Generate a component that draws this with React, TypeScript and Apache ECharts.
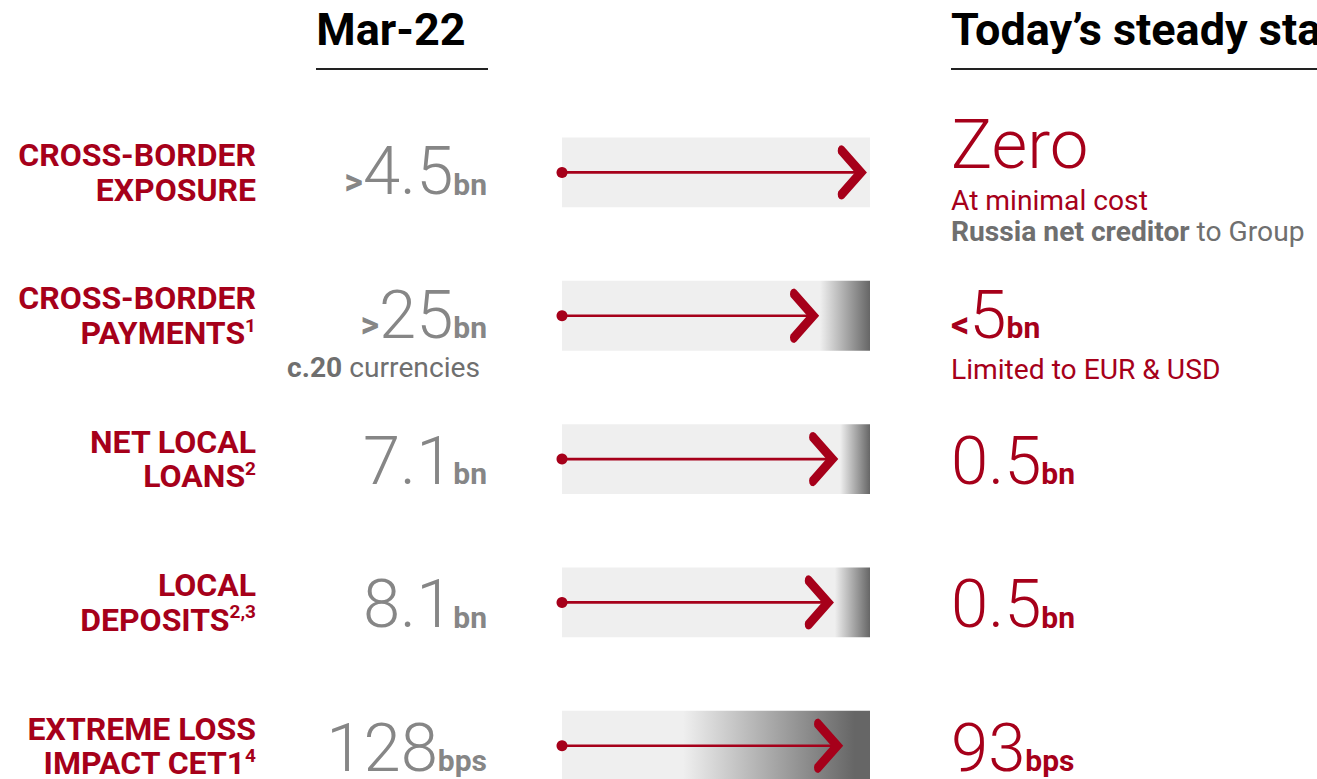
import React, { useEffect, useRef } from "react";
import * as echarts from "echarts";

// ---------- data ----------
const categories = [
  "CROSS-BORDER EXPOSURE",
  "CROSS-BORDER PAYMENTS",
  "NET LOCAL LOANS",
  "LOCAL DEPOSITS",
  "EXTREME LOSS IMPACT CET1",
];
const labelLines = [
  ["CROSS-BORDER", "EXPOSURE"],
  ["CROSS-BORDER", "PAYMENTS"],
  ["NET LOCAL", "LOANS"],
  ["LOCAL", "DEPOSITS"],
  ["EXTREME LOSS", "IMPACT CET1"],
];
const footnotes = ["", "1", "2", "2,3", "4"];

const mar22Values = ["4.5", "25", "7.1", "8.1", "128"];
const mar22Prefix = [">", ">", "", "", ""];
const mar22Units = ["bn", "bn", "bn", "bn", "bps"];
const mar22NoteBold = ["", "c.20", "", "", ""];
const mar22NoteText = ["", " currencies", "", "", ""];

const todayValues = ["Zero", "5", "0.5", "0.5", "93"];
const todayPrefix = ["", "<", "", "", ""];
const todayUnits = ["", "bn", "bn", "bn", "bps"];
const todayNotes: string[][] = [
  ["At minimal cost"],
  ["Limited to EUR & USD"],
  [],
  [],
  [],
];
const todaySubBold = ["Russia net creditor", "", "", "", ""];
const todaySubText = [" to Group", "", "", "", ""];

// arrow reach and shading of each band, in % of the band length
const arrowReach = [99, 83.5, 89.7, 88.3, 91.3];
const shadeFrom = [100, 83.8, 90.3, 88.6, 39.3];
const shadeTo = [100, 100, 100, 100, 95];

const headerLeft = "Mar-22";
const headerRight = "Today\u2019s steady state";

// ---------- styles ----------
const RED = "#a6001a";
const GREY = "#868686";
const NOTE_GREY = "#6f6f6f";
const DARK = "#666666";
const BAND = "#efefef";
const FONT = "Roboto, 'Noto Sans', sans-serif";
const FMAX = 70;
const BASE_K = 0.158; // (0.5 - central baseline offset) in em

function tok(f: number, w: any, color: string) {
  return {
    fontSize: f,
    fontWeight: w,
    fontFamily: FONT,
    fill: color,
    verticalAlign: "bottom",
    padding: [0, 0, BASE_K * (FMAX - f), 0],
  };
}
function bigRich(color: string) {
  return {
    p: tok(36, "bold", color),
    n: tok(67, 300, color),
    z: tok(69, 300, color),
    u: tok(30, "bold", color),
  };
}
const NOTE_FS = 28.2;
const noteRich = {
  r: { fontSize: NOTE_FS, fontFamily: FONT, fill: RED, fontWeight: "normal" },
  gb: { fontSize: NOTE_FS, fontFamily: FONT, fill: NOTE_GREY, fontWeight: "bold" },
  g: { fontSize: NOTE_FS, fontFamily: FONT, fill: NOTE_GREY, fontWeight: "normal" },
};

function chevron(tx: number, cy: number) {
  const half = [
    [-23, -26],
    [-25, -27.2],
    [-27.3, -26.6],
    [-28.8, -24.5],
    [-29.2, -21.5],
    [-28.7, -19],
    [-12, 0],
  ];
  const pts: number[][] = [[tx, cy]];
  half.forEach(([dx, dy]) => pts.push([tx + dx, cy + dy]));
  for (let k = half.length - 2; k >= 0; k--) {
    pts.push([tx + half[k][0], cy - half[k][1]]);
  }
  return pts;
}

export default function App() {
  const ref = useRef<HTMLDivElement>(null);
  useEffect(() => {
    document.body.style.margin = "0";
    const chart = echarts.init(ref.current!, null, { renderer: "svg" });

    const renderItem = (params: any, api: any) => {
      const i = params.dataIndex;
      const [x0, cy] = api.coord([0, i]);
      const x1 = api.coord([100, i])[0];
      const tip = api.coord([api.value(0), i])[0];
      const h = api.size([0, 1])[1] * 0.487;
      const from = shadeFrom[i] / 100;
      const to = shadeTo[i] / 100;
      const fill =
        from >= 1
          ? BAND
          : new echarts.graphic.LinearGradient(0, 0, 1, 0, [
              { offset: 0, color: BAND },
              { offset: from, color: BAND },
              { offset: to, color: DARK },
              { offset: 1, color: DARK },
            ]);
      const children: any[] = [
        { type: "rect", shape: { x: x0, y: cy - h / 2, width: x1 - x0, height: h }, style: { fill } },
        { type: "line", shape: { x1: x0, y1: cy, x2: tip - 10, y2: cy }, style: { stroke: RED, lineWidth: 2.6 } },
        { type: "circle", shape: { cx: x0, cy, r: 5.5 }, style: { fill: RED } },
        { type: "polygon", shape: { points: chevron(tip, cy) }, style: { fill: RED } },
      ];

      const hasNotes =
        !!(mar22NoteBold[i] || mar22NoteText[i]) || todayNotes[i].length > 0 || !!todaySubBold[i];
      const valueBase = cy + (hasNotes ? 22 : 25);

      // Mar-22 value
      let leftTxt = "";
      if (mar22Prefix[i]) leftTxt += `{p|${mar22Prefix[i]}}`;
      leftTxt += `{n|${mar22Values[i]}}{u|${mar22Units[i]}}`;
      children.push({
        type: "text",
        style: {
          text: leftTxt,
          x: x0 - 75,
          y: valueBase + BASE_K * FMAX,
          align: "right",
          verticalAlign: "bottom",
          rich: bigRich(GREY),
        },
      });
      if (mar22NoteBold[i] || mar22NoteText[i]) {
        children.push({
          type: "text",
          style: {
            text: `{gb|${mar22NoteBold[i]}}{g|${mar22NoteText[i]}}`,
            x: x0 - 82,
            y: valueBase + 30,
            align: "right",
            verticalAlign: "middle",
            rich: noteRich,
          },
        });
      }

      // Today's value
      const nNotes = todayNotes[i].length + (todaySubBold[i] ? 1 : 0);
      const rightBase = nNotes >= 2 ? cy - 4 : valueBase;
      let rightTxt = "";
      if (todayPrefix[i]) rightTxt += `{p|${todayPrefix[i]}}`;
      rightTxt += todayUnits[i] ? `{n|${todayValues[i]}}{u|${todayUnits[i]}}` : `{z|${todayValues[i]}}`;
      children.push({
        type: "text",
        style: {
          text: rightTxt,
          x: x1 + 81,
          y: rightBase + BASE_K * FMAX,
          align: "left",
          verticalAlign: "bottom",
          rich: bigRich(RED),
        },
      });
      const noteTexts = todayNotes[i].map((t) => `{r|${t}}`);
      if (todaySubBold[i]) noteTexts.push(`{gb|${todaySubBold[i]}}{g|${todaySubText[i]}}`);
      noteTexts.forEach((t, k) => {
        children.push({
          type: "text",
          style: {
            text: t,
            x: x1 + 81,
            y: rightBase + 32 + 31 * k,
            align: "left",
            verticalAlign: "middle",
            rich: noteRich,
          },
        });
      });

      return { type: "group", children };
    };

    const option: any = {
      animation: false,
      textStyle: { fontFamily: FONT },
      grid: { left: 562, width: 308, top: 172.4, height: 574.8, containLabel: false },
      xAxis: { type: "value", min: 0, max: 100, show: false },
      yAxis: {
        type: "category",
        inverse: true,
        boundaryGap: false,
        data: categories,
        axisLine: { show: false },
        axisTick: { show: false },
        splitLine: { show: false },
        axisLabel: {
          margin: 306,
          align: "right",
          formatter: (v: string) => {
            const i = categories.indexOf(v);
            const lines = labelLines[i];
            const last = lines.length - 1;
            return lines
              .map((l, k) => (k === last && footnotes[i] ? `{t|${l}}{s|${footnotes[i]}}` : `{t|${l}}`))
              .join("\n");
          },
          rich: {
            t: { fontSize: 32, fontWeight: "bold", color: RED, fontFamily: FONT, lineHeight: 34.5 },
            s: { fontSize: 19, fontWeight: "bold", color: RED, fontFamily: FONT, lineHeight: 26, verticalAlign: "top" },
          },
        },
      },
      graphic: [
        {
          type: "text",
          style: {
            text: headerLeft,
            x: 391,
            y: 29,
            align: "center",
            verticalAlign: "middle",
            fontSize: 45,
            fontWeight: "bold",
            fontFamily: FONT,
            fill: "#000",
          },
        },
        { type: "line", shape: { x1: 316, y1: 69, x2: 488, y2: 69 }, style: { stroke: "#222", lineWidth: 2 } },
        {
          type: "text",
          style: {
            text: headerRight,
            x: 951,
            y: 29,
            align: "left",
            verticalAlign: "middle",
            fontSize: 45,
            fontWeight: "bold",
            fontFamily: FONT,
            fill: "#000",
          },
        },
        { type: "line", shape: { x1: 951, y1: 69, x2: 1317, y2: 69 }, style: { stroke: "#222", lineWidth: 2 } },
      ],
      series: [
        {
          type: "custom",
          clip: false,
          renderItem,
          encode: { x: 0, y: 1 },
          data: arrowReach.map((v, i) => [v, i]),
        },
      ],
    };
    chart.setOption(option);
    return () => chart.dispose();
  }, []);
  return <div ref={ref} style={{ width: 1317, height: 779 }} />;
}
